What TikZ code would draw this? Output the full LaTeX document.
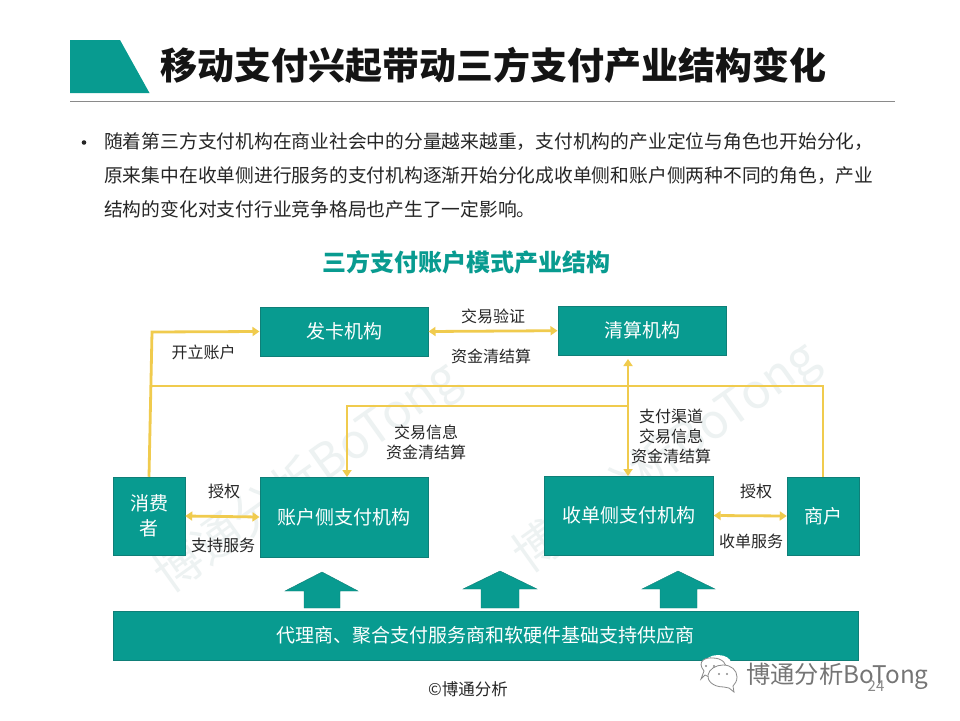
\documentclass[tikz,border=0pt]{standalone}
\usepackage{fontspec}
\setmainfont{Noto Sans CJK SC}
\usetikzlibrary{arrows.meta,calc}
\definecolor{teal1}{HTML}{089B90}
\definecolor{teal2}{HTML}{0F7F78}
\definecolor{yl}{HTML}{F0CB4E}
\definecolor{wm}{HTML}{EDF2F2}
\definecolor{gr}{HTML}{8A8A8A}
\tikzset{
  box/.style={draw=teal2,line width=0.5pt,fill=teal1,text=white,inner sep=0pt,align=center,font=\fontsize{19}{25}\selectfont},
  conn/.style={draw=yl,line width=2.8pt},
  tip/.style={-{Triangle[length=7pt,width=9pt,fill=yl,color=yl]}},
  dtip/.style={{Triangle[length=7pt,width=9pt,fill=yl,color=yl]}-{Triangle[length=7pt,width=9pt,fill=yl,color=yl]}},
  lab/.style={inner sep=0pt,align=center,text=black!85,font=\fontsize{16}{20}\selectfont},
  body/.style={inner sep=0pt,anchor=west,text=black!85,font=\fontsize{18.76}{22}\selectfont},
  up/.style={draw=teal2,line width=0.4pt,fill=teal1},
  water/.style={inner sep=0pt,rotate=35.5,text=wm,font=\fontsize{48}{56}\selectfont},
}
\begin{document}
\begin{tikzpicture}[x=1pt,y=-1pt]
\useasboundingbox (0,0) rectangle (960,720);
\fill[white] (0,0) rectangle (960,720);
% watermarks
\node[water] (wa) at (308,478) {博通分析BoTong};
\node[water] (wb) at (667,458) {博通分析BoTong};
% header
\fill[teal1] (70,40) -- (120,40) -- (149.5,93) -- (70,93) -- cycle;
\draw[gr,line width=0.9pt] (70,101) -- (895,101);
\node[inner sep=0pt,anchor=west,text=black!92] (title) at (160,65) {\fontsize{37}{40}\selectfont\bfseries 移动支付兴起带动三方支付产业结构变化};
\fill[black!85] (84,142.5) circle (2.3);
\node[body] (l1) at (104,142) {随着第三方支付机构在商业社会中的分量越来越重，支付机构的产业定位与角色也开始分化，};
\node[body] (l2) at (104,176) {原来集中在收单侧进行服务的支付机构逐渐开始分化成收单侧和账户侧两种不同的角色，产业};
\node[body] (l3) at (104,209) {结构的变化对支付行业竞争格局也产生了一定影响。};
\node[inner sep=0pt,text=teal1] (sub) at (466.5,262) {\fontsize{24}{28}\selectfont\bfseries 三方支付账户模式产业结构};
% boxes
\node[box,minimum width=168.5pt,minimum height=49.5pt] (faka) at (344,331.5) {发卡机构};
\node[box,minimum width=168.5pt,minimum height=49.5pt] (qing) at (642,330.7) {清算机构};
\node[box,minimum width=72pt,minimum height=78pt] (xiao) at (149,516) {消费\\者};
\node[box,minimum width=168.5pt,minimum height=79.5pt] (zhang) at (344,517) {账户侧支付机构};
\node[box,minimum width=169.5pt,minimum height=79pt] (shou) at (628.7,515.5) {收单侧支付机构};
\node[box,minimum width=72pt,minimum height=78pt] (shang) at (823,516) {商户};
\node[box,minimum width=745.5pt,minimum height=49.5pt] (base) at (485.7,635.7) {代理商、聚合支付服务商和软硬件基础支持供应商};
% up arrows
\draw[up] (322,572) -- (358,591) -- (340,591) -- (340,608) -- (304,608) -- (304,591) -- (285,591) -- cycle;
\draw[up] (500,571) -- (537,589) -- (519,589) -- (519,608) -- (481,608) -- (481,589) -- (463,589) -- cycle;
\draw[up] (678,571) -- (715,589) -- (697,589) -- (697,608) -- (660,608) -- (660,589) -- (642,589) -- cycle;
% connectors
\coordinate (c1) at (152,332);
\coordinate (j1) at (151.2,386);
\coordinate (j2) at (823,386);
\coordinate (j3) at (347,406);
\coordinate (j4) at (628,406);
\coordinate (q1) at (628,359);
\coordinate (s1) at (628,476);
\coordinate (z1) at (347,477);
\draw[conn,tip] (xiao.north) -- (c1) -- (faka.west);
\draw[conn] (j1) -- (j2) -- (shang.north);
\draw[conn,tip] (j4) -- (j3) -- (z1);
\draw[conn,dtip] (q1) -- (s1);
\draw[conn,dtip] (faka.east) -- (qing.west);
\draw[conn,dtip] (xiao.east) -- (zhang.west);
\draw[conn,dtip] (shou.east) -- (shang.west);
% labels
\node[lab] (a1) at (203.5,352) {开立账户};
\node[lab] (a2) at (493,316) {交易验证};
\node[lab] (a3) at (491,356) {资金清结算};
\node[lab] (a4) at (426,442) {交易信息\\资金清结算};
\node[lab] (a5) at (671,436) {支付渠道\\交易信息\\资金清结算};
\node[lab] (a6) at (224,491) {授权};
\node[lab] (a7) at (223,545) {支持服务};
\node[lab] (a8) at (756,491) {授权};
\node[lab] (a9) at (751,541) {收单服务};
\node[lab,font=\fontsize{16.5}{18}\selectfont] (cp) at (468,689) {©博通分析};
% wechat mark
\fill[white] (718,663) ellipse (13 and 8);
\draw[gr,line width=0.8pt,fill=white] (701,679) -- (704,671) .. controls (696,661) and (706,657) .. (713,658) .. controls (722,658) and (728,664) .. (726,671) -- (711,678) -- (705,675) -- cycle;
\draw[gr,line width=0.8pt,fill=white] (724,687) .. controls (712,687) and (707,680) .. (708,675) .. controls (709,669) and (716,665) .. (723,665) .. controls (731,665) and (737,670) .. (737,677) .. controls (737,681) and (735,684) .. (733,686) -- (734,692) -- (729,688) -- cycle;
\fill[gr] (706,666) circle (1.2) (714,666) circle (1.2) (719,674) circle (1.1) (727,674) circle (1.1);
\node[inner sep=0pt,anchor=west,text=gr!85!black] (wc) at (746,676) {\fontsize{24.3}{26}\selectfont 博通分析BoTong};
\node[inner sep=0pt,text=gr] (pg) at (876,686) {\fontsize{15}{18}\selectfont 24};
\end{tikzpicture}
\end{document}
